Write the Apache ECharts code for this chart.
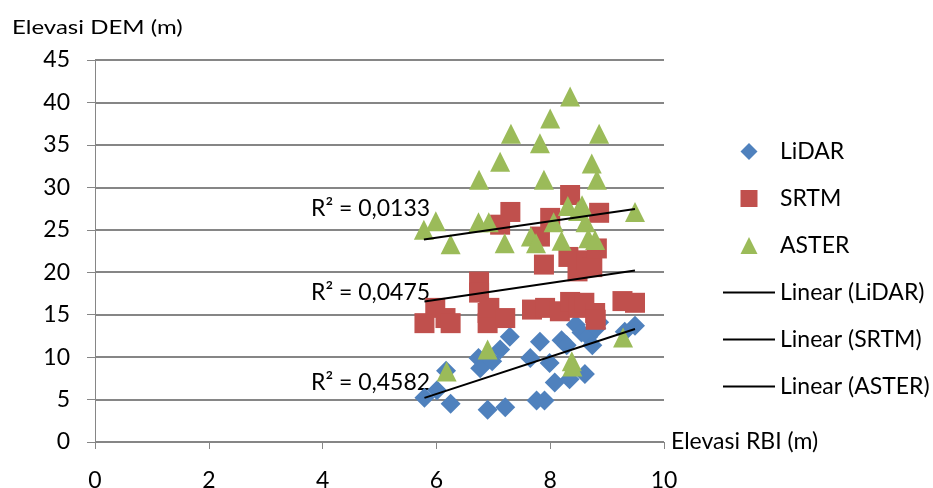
<!DOCTYPE html>
<html>
<head>
<meta charset="utf-8">
<script src="https://cdn.jsdelivr.net/npm/echarts@6/dist/echarts.min.js"></script>
<style>
  html, body { margin: 0; padding: 0; background: #fff; }
  #chart { width: 933px; height: 488px; }
</style>
</head>
<body>
<div id="chart"></div>
<script>
// [Elevasi RBI, Elevasi DEM] pairs
const lidarPoints = [
  [5.79, 5.2], [6.01, 6.1], [6.17, 8.4], [6.25, 4.5], [6.74, 9.9], [6.77, 8.7],
  [6.9, 3.8], [6.98, 9.5], [7.12, 10.9], [7.21, 4.1], [7.29, 12.4], [7.65, 9.9],
  [7.76, 4.9], [7.82, 11.8], [7.9, 4.9], [7.99, 9.3], [8.08, 7.0], [8.2, 12.0],
  [8.29, 11.4], [8.34, 7.4], [8.45, 13.8], [8.55, 12.9], [8.61, 8.0], [8.67, 12.4],
  [8.74, 11.4], [8.81, 13.4], [8.86, 14.1], [9.31, 13.0], [9.49, 13.7]
];
const srtmPoints = [
  [5.79, 14.0], [5.98, 15.8], [6.16, 14.6], [6.25, 14.0], [6.75, 18.9], [6.75, 17.6],
  [6.9, 15.2], [6.9, 14.0], [6.93, 15.8], [7.12, 25.6], [7.21, 14.6], [7.3, 27.1],
  [7.68, 15.6], [7.82, 24.2], [7.89, 20.9], [7.91, 15.8], [8.0, 26.4], [8.17, 15.4],
  [8.32, 21.8], [8.35, 29.1], [8.35, 16.5], [8.48, 20.1], [8.49, 15.8], [8.6, 16.4],
  [8.64, 21.4], [8.74, 20.6], [8.79, 15.2], [8.8, 14.4], [8.82, 22.8], [8.86, 27.0],
  [9.27, 16.6], [9.49, 16.4]
];
const asterPoints = [
  [5.78, 25.0], [5.99, 26.0], [6.18, 8.3], [6.25, 23.3], [6.74, 25.9], [6.75, 30.9],
  [6.9, 10.9], [6.92, 25.9], [7.12, 33.0], [7.2, 23.4], [7.31, 36.3], [7.66, 24.2],
  [7.75, 23.4], [7.82, 35.2], [7.89, 30.9], [8.0, 38.1], [8.06, 25.9], [8.2, 23.7],
  [8.31, 27.8], [8.35, 40.7], [8.38, 9.5], [8.39, 8.9], [8.49, 27.2], [8.56, 27.9],
  [8.62, 25.9], [8.67, 24.0], [8.73, 32.8], [8.79, 23.8], [8.82, 30.9], [8.86, 36.3],
  [9.28, 12.3], [9.49, 27.1]
];

const seriesNames = ["LiDAR", "SRTM", "ASTER"];
const seriesColors = ["#4F81BD", "#C0504D", "#9BBB59"];
const seriesSymbols = ["diamond", "rect", "triangle"];
// same shapes as paths so the legend keeps them square
const legendIcons = [
  "path://M10,0L20,10L10,20L0,10Z",
  "path://M0,0L20,0L20,20L0,20Z",
  "path://M10,0L20,20L0,20Z",
];

// linear trendlines as shown in the chart (y = a*x + b) and their R²
const trendSlopes = [2.19, 0.99, 0.97];
const trendIntercepts = [-7.48, 10.82, 18.25];
const rSquaredLabels = ["R² = 0,4582", "R² = 0,0475", "R² = 0,0133"];

const xTicks = [0, 2, 4, 6, 8, 10];
const yTicks = [0, 5, 10, 15, 20, 25, 30, 35, 40, 45];

const font = "Lato, 'Open Sans', sans-serif";
const gray = "#868686";

const allPoints = [lidarPoints, srtmPoints, asterPoints];

function trendLine(i) {
  const xs = allPoints[i].map((p) => p[0]);
  const x0 = Math.min(...xs);
  const x1 = Math.max(...xs);
  return [x0, x1].map((x) => [x, trendSlopes[i] * x + trendIntercepts[i]]);
}

const chart = echarts.init(document.getElementById("chart"));

const scatterSeries = allPoints.map((pts, i) => ({
  name: seriesNames[i],
  type: "scatter",
  data: pts,
  symbol: seriesSymbols[i],
  symbolSize: 20,
  itemStyle: { color: seriesColors[i], opacity: 1 },
  z: 2 + i,
}));

const lineSeries = allPoints.map((pts, i) => ({
  name: "Linear (" + seriesNames[i] + ")",
  type: "line",
  data: trendLine(i),
  symbol: "none",
  lineStyle: { color: "#000", width: 2 },
  itemStyle: { color: "#000" },
  z: 10,
}));

const legendData = seriesNames
  .map((n, i) => ({ name: n, icon: legendIcons[i] }))
  .concat(seriesNames.map((n) => ({ name: "Linear (" + n + ")", itemStyle: { opacity: 0 } })));

const option = {
  animation: false,
  backgroundColor: "#fff",
  textStyle: { fontFamily: font },
  grid: { left: 95, top: 60, width: 569, height: 382, outerBoundsMode: "none" },
  xAxis: {
    type: "value",
    min: xTicks[0],
    max: xTicks[xTicks.length - 1],
    interval: 2,
    name: "Elevasi RBI (m)",
    nameLocation: "end",
    nameGap: 7,
    nameTextStyle: { fontFamily: font, fontSize: 23, color: "#000", verticalAlign: "middle" },
    axisLine: { show: true, lineStyle: { color: gray, width: 1 } },
    axisTick: { show: true, length: 7, lineStyle: { color: gray } },
    axisLabel: { color: "#000", fontSize: 23, fontFamily: font, margin: 27 },
    splitLine: { show: false },
  },
  yAxis: {
    type: "value",
    min: yTicks[0],
    max: yTicks[yTicks.length - 1],
    interval: 5,
    axisLine: { show: true, lineStyle: { color: gray, width: 1 } },
    axisTick: { show: true, length: 8, lineStyle: { color: gray } },
    axisLabel: { color: "#000", fontSize: 23, fontFamily: font, margin: 25 },
    splitLine: { show: true, lineStyle: { color: gray, width: 2 } },
  },
  legend: {
    orient: "vertical",
    left: 717,
    top: 135,
    itemWidth: 52,
    itemHeight: 17,
    itemGap: 24,
    symbolKeepAspect: true,
    textStyle: { fontFamily: font, fontSize: 23, color: "#000" },
    data: legendData,
  },
  graphic: [
    {
      type: "text",
      left: 12,
      top: 18,
      style: { text: "Elevasi DEM (m)", font: "20px " + font, fill: "#000" },
      scaleX: 1.2,
    },
  ].concat(
    rSquaredLabels.map((t, i) => ({
      type: "text",
      left: 311,
      top: [371, 281, 197][i],
      style: { text: t, font: "23px " + font, fill: "#000" },
    }))
  ),
  series: scatterSeries.concat(lineSeries),
};

chart.setOption(option);
</script>
</body>
</html>
